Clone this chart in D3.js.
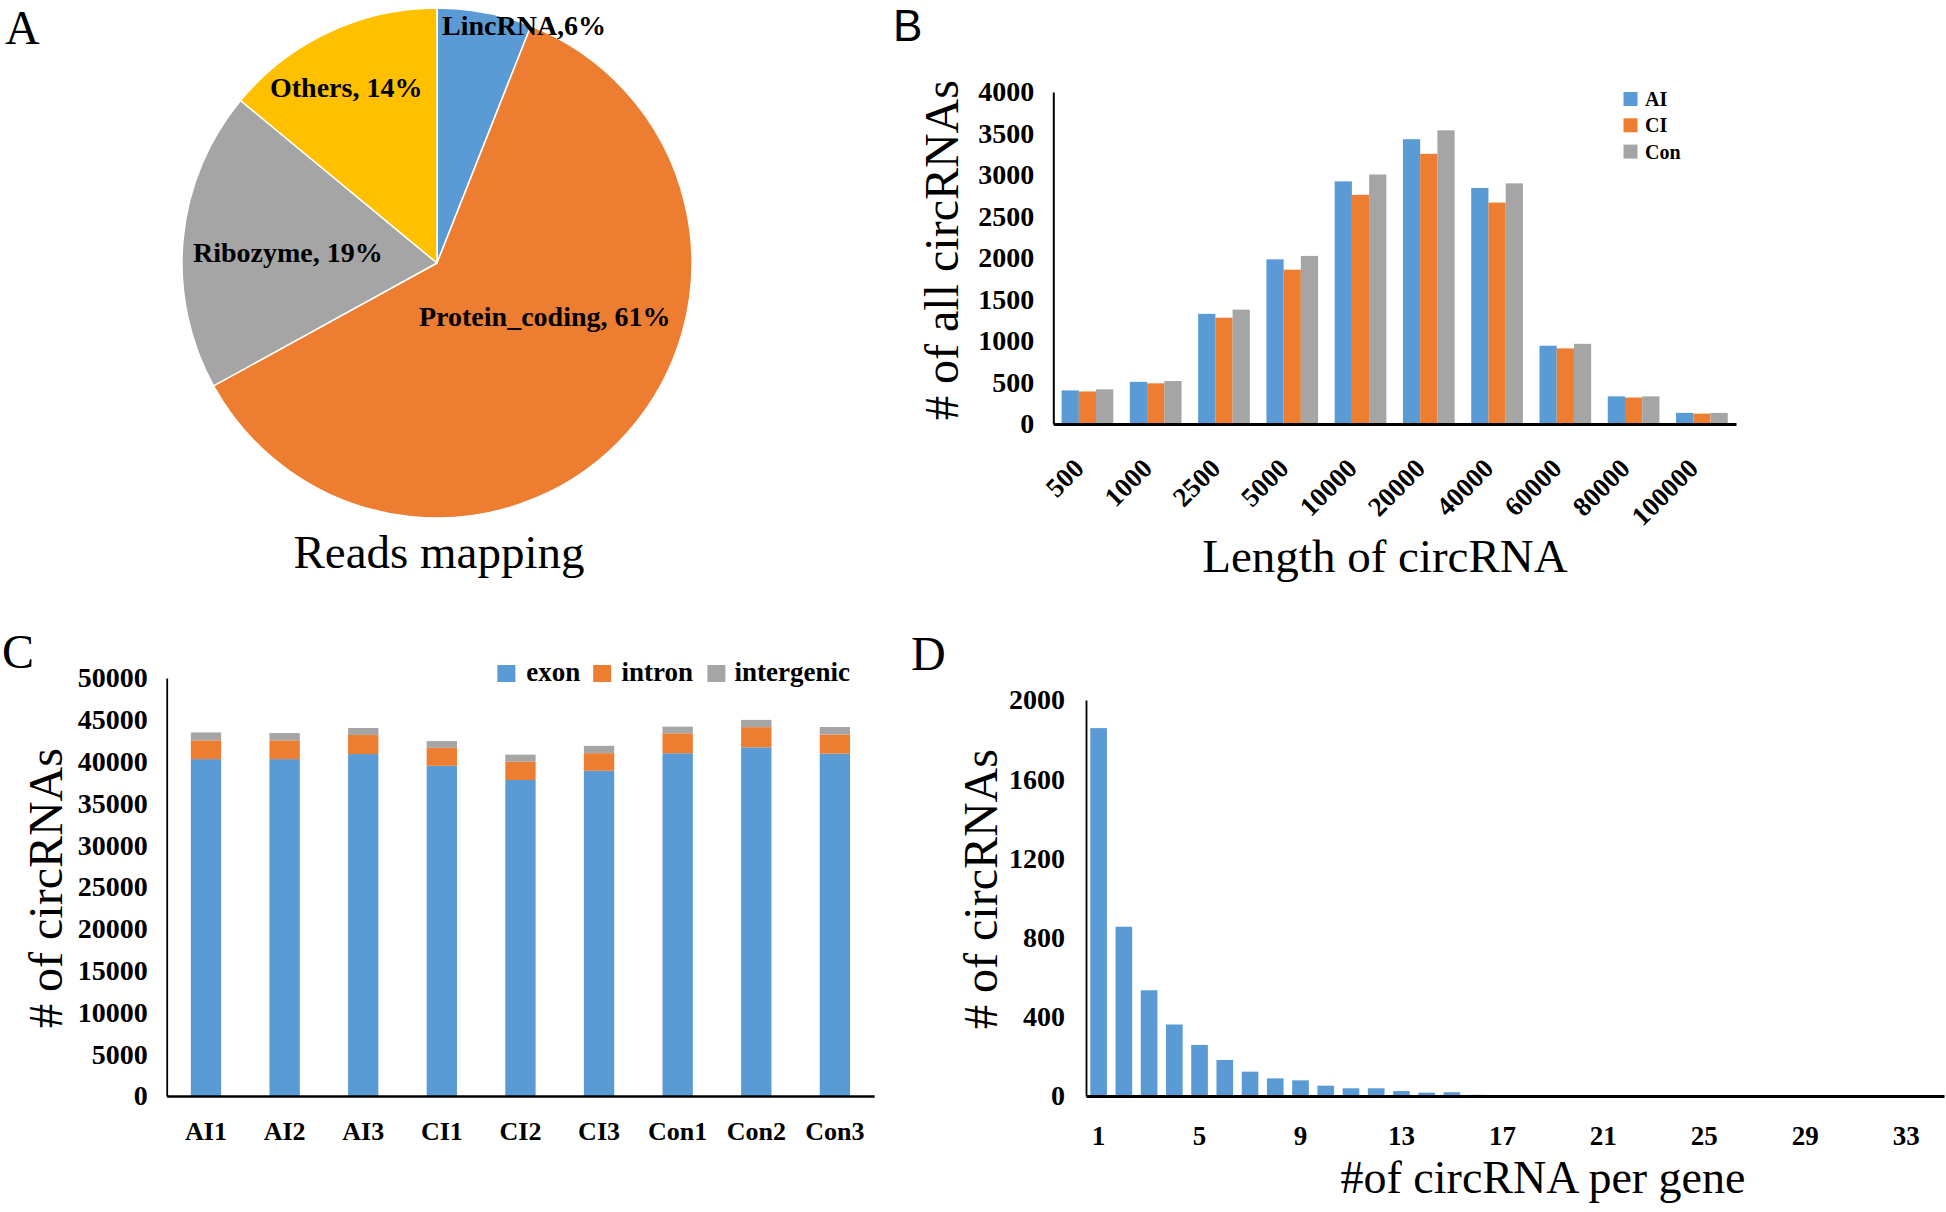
<!DOCTYPE html>
<html><head><meta charset="utf-8">
<script src="https://cdn.jsdelivr.net/npm/d3@7"></script>
<style>
body{margin:0;background:#fff}
svg{display:block}
text{font-family:"Liberation Serif","Times New Roman",serif;fill:#000}
</style>
</head><body>
<svg id="c" width="1946" height="1212"></svg>
<script>
// ---------- DATA ----------
const pieLabels = ["LincRNA,6%", "Protein_coding, 61%", "Ribozyme, 19%", "Others, 14%"];
const pieValues = [6, 61, 19, 14];
const pieTitle = "Reads mapping";

const lenCategories = ["500","1000","2500","5000","10000","20000","40000","60000","80000","100000"];
const lenSeries = ["AI","CI","Con"];
const lenAI  = [405, 508, 1327, 1984, 2923, 3431, 2844, 943, 333, 134];
const lenCI  = [392, 490, 1281, 1859, 2761, 3255, 2668, 911, 319, 125];
const lenCon = [418, 518, 1378, 2025, 3006, 3538, 2899, 966, 333, 134];
const lenTicks = [0,500,1000,1500,2000,2500,3000,3500,4000];

const samples = ["AI1","AI2","AI3","CI1","CI2","CI3","Con1","Con2","Con3"];
const typeSeries = ["exon","intron","intergenic"];
const exon       = [40300, 40300, 40900, 39500, 37800, 38900, 41000, 41700, 40950];
const intron     = [2240, 2240, 2290, 2150, 2200, 2110, 2380, 2420, 2290];
const intergenic = [950, 870, 830, 800, 830, 870, 800, 870, 900];
const sampleTicks = [0,5000,10000,15000,20000,25000,30000,35000,40000,45000,50000];

const perGeneCats = [1,2,3,4,5,6,7,8,9,10,11,12,13,14,15,16,17,18,19,20,21,22,23,24,25,26,27,28,29,30,31,32,33,34];
const perGeneCounts = [1858, 855, 534, 361, 258, 182, 123, 89, 79, 52, 39, 39, 25, 17, 19, 6, 5, 5, 4, 4, 4, 5, 5, 4, 1, 1, 1, 1, 1, 1, 1, 1, 1, 1];
const perGeneTicks = [0,400,800,1200,1600,2000];
const perGeneTickLabels = [1,5,9,13,17,21,25,29,33];

const colors = ["#5B9BD5", "#ED7D31", "#A5A5A5", "#FFC000"];

// ---------- SETUP ----------
const svg = d3.select("#c");
svg.append("rect").attr("width",1946).attr("height",1212).attr("fill","#fff");
const fmt = d3.format("d");

function panelLetter(t, x, y, size, fam) {
  svg.append("text").attr("x", x).attr("y", y).attr("font-size", size)
    .style("font-family", fam || null).text(t);
}
function styleAxis(g, sw) {
  g.select(".domain").attr("stroke", "#000").attr("stroke-width", sw);
  g.selectAll(".tick line").remove();
  g.selectAll("text").attr("fill", "#000").style("font-family", '"Liberation Serif","Times New Roman",serif')
    .attr("font-weight", "bold");
}

// ---------- PANEL A: pie ----------
panelLetter("A", 5, 44, 48);
const cx = 437, cy = 263, R = 255;
const pie = d3.pie().sort(null).value(d => d)(pieValues);
const arc = d3.arc().innerRadius(0).outerRadius(R);
const gA = svg.append("g").attr("transform", `translate(${cx},${cy})`);
gA.selectAll("path").data(pie).join("path")
  .attr("d", arc).attr("fill", (d, i) => colors[i])
  .attr("stroke", "#fff").attr("stroke-width", 1.5);
const pieLabelPos = [[442, 35], [419, 326], [193, 262], [270, 97]];
svg.selectAll("text.pl").data(pieLabels).join("text").attr("class", "pl")
  .attr("x", (d, i) => pieLabelPos[i][0]).attr("y", (d, i) => pieLabelPos[i][1])
  .attr("font-size", 28).attr("font-weight", "bold").text(d => d);
svg.append("text").attr("x", 439).attr("y", 568).attr("text-anchor", "middle")
  .attr("font-size", 47).text(pieTitle);

// ---------- PANEL B: grouped bars ----------
panelLetter("B", 893, 41, 44, '"Liberation Sans",Arial,sans-serif');
const xB = d3.scaleBand().domain(lenCategories).range([1053.3, 1736]).paddingInner(0.243).paddingOuter(0.1215);
const xBi = d3.scaleBand().domain(lenSeries).range([0, xB.bandwidth()]);
const yB = d3.scaleLinear().domain([0, 4000]).range([424, 92]);
const lenData = [lenAI, lenCI, lenCon];
const gB = svg.append("g");
lenSeries.forEach((s, si) => {
  gB.selectAll("rect.s" + si).data(lenCategories).join("rect").attr("class", "s" + si)
    .attr("x", c => xB(c) + xBi(s)).attr("width", xBi.bandwidth())
    .attr("y", (c, i) => yB(lenData[si][i])).attr("height", (c, i) => yB(0) - yB(lenData[si][i]))
    .attr("fill", colors[si]);
});
const axBy = svg.append("g").attr("transform", `translate(${1053.3},0)`)
  .call(d3.axisLeft(yB).tickValues(lenTicks).tickFormat(fmt).tickSize(0).tickSizeOuter(0).tickPadding(19));
styleAxis(axBy, 2);
axBy.selectAll("text").attr("font-size", 28);
const axBx = svg.append("g").attr("transform", `translate(0,${yB(0)})`)
  .call(d3.axisBottom(xB).tickSize(0).tickSizeOuter(0));
styleAxis(axBx, 2.8);
axBx.selectAll("text").attr("font-size", 27).attr("text-anchor", "end")
  .attr("y", null).attr("dy", null).attr("transform", "translate(-2,46) rotate(-45)");
svg.append("text").attr("transform", "translate(958,250) rotate(-90)").attr("text-anchor", "middle")
  .attr("font-size", 48).text("# of all circRNAs");
svg.append("text").attr("x", 1385).attr("y", 572).attr("text-anchor", "middle")
  .attr("font-size", 47).text("Length of circRNA");
const legB = svg.append("g");
lenSeries.forEach((s, i) => {
  legB.append("rect").attr("x", 1623.5).attr("y", 92 + i * 26.3).attr("width", 14).attr("height", 14).attr("fill", colors[i]);
  legB.append("text").attr("x", 1645).attr("y", 106 + i * 26.3).attr("font-size", 20).attr("font-weight", "bold").text(s);
});

// ---------- PANEL C: stacked bars ----------
panelLetter("C", 2, 668, 48);
const xC = d3.scaleBand().domain(samples).range([166.7, 874.2]).paddingInner(0.614).paddingOuter(0.307);
const yC = d3.scaleLinear().domain([0, 50000]).range([1096, 678]);
const tableC = samples.map((s, i) => ({sample: s, exon: exon[i], intron: intron[i], intergenic: intergenic[i]}));
const stackC = d3.stack().keys(typeSeries)(tableC);
svg.append("g").selectAll("g").data(stackC).join("g").attr("fill", (d, i) => colors[i])
  .selectAll("rect").data(d => d).join("rect")
  .attr("x", d => xC(d.data.sample)).attr("width", xC.bandwidth())
  .attr("y", d => yC(d[1])).attr("height", d => yC(d[0]) - yC(d[1]));
const axCy = svg.append("g").attr("transform", `translate(166.7,0)`)
  .call(d3.axisLeft(yC).tickValues(sampleTicks).tickFormat(fmt).tickSize(0).tickSizeOuter(0).tickPadding(19));
styleAxis(axCy, 1.8);
axCy.selectAll("text").attr("font-size", 28);
const axCx = svg.append("g").attr("transform", `translate(0,${yC(0)})`)
  .call(d3.axisBottom(xC).tickSize(0).tickSizeOuter(0));
styleAxis(axCx, 2.6);
axCx.selectAll("text").attr("font-size", 26).attr("y", 44).attr("dy", null);
svg.append("text").attr("transform", "translate(62,888) rotate(-90)").attr("text-anchor", "middle")
  .attr("font-size", 48).text("# of circRNAs");
const legCx = [[497.4, 526.3], [593.2, 621.5], [707.4, 734.6]];
typeSeries.forEach((s, i) => {
  svg.append("rect").attr("x", legCx[i][0]).attr("y", 665).attr("width", 18).attr("height", 17).attr("fill", colors[i]);
  svg.append("text").attr("x", legCx[i][1]).attr("y", 681).attr("font-size", 27).attr("font-weight", "bold").text(s);
});

// ---------- PANEL D: histogram bars ----------
panelLetter("D", 911, 670, 48);
const xD = d3.scaleBand().domain(perGeneCats).range([1086, 1944]).paddingInner(0.34).paddingOuter(0.17);
const yD = d3.scaleLinear().domain([0, 2000]).range([1096, 700]);
svg.append("g").selectAll("rect").data(perGeneCats).join("rect")
  .attr("x", c => xD(c)).attr("width", xD.bandwidth())
  .attr("y", (c, i) => yD(perGeneCounts[i])).attr("height", (c, i) => yD(0) - yD(perGeneCounts[i]))
  .attr("fill", colors[0]);
const axDy = svg.append("g").attr("transform", `translate(1086,0)`)
  .call(d3.axisLeft(yD).tickValues(perGeneTicks).tickFormat(fmt).tickSize(0).tickSizeOuter(0).tickPadding(21));
styleAxis(axDy, 1.8);
axDy.selectAll("text").attr("font-size", 28);
const axDx = svg.append("g").attr("transform", `translate(0,${yD(0)})`)
  .call(d3.axisBottom(xD).tickValues(perGeneTickLabels).tickSize(0).tickSizeOuter(0));
styleAxis(axDx, 2.8);
axDx.selectAll("text").attr("font-size", 27).attr("y", 49).attr("dy", null);
svg.append("text").attr("transform", "translate(997,889) rotate(-90)").attr("text-anchor", "middle")
  .attr("font-size", 48).text("# of circRNAs");
svg.append("text").attr("x", 1543).attr("y", 1193).attr("text-anchor", "middle")
  .attr("font-size", 46).text("#of circRNA per gene");
</script>
</body></html>
